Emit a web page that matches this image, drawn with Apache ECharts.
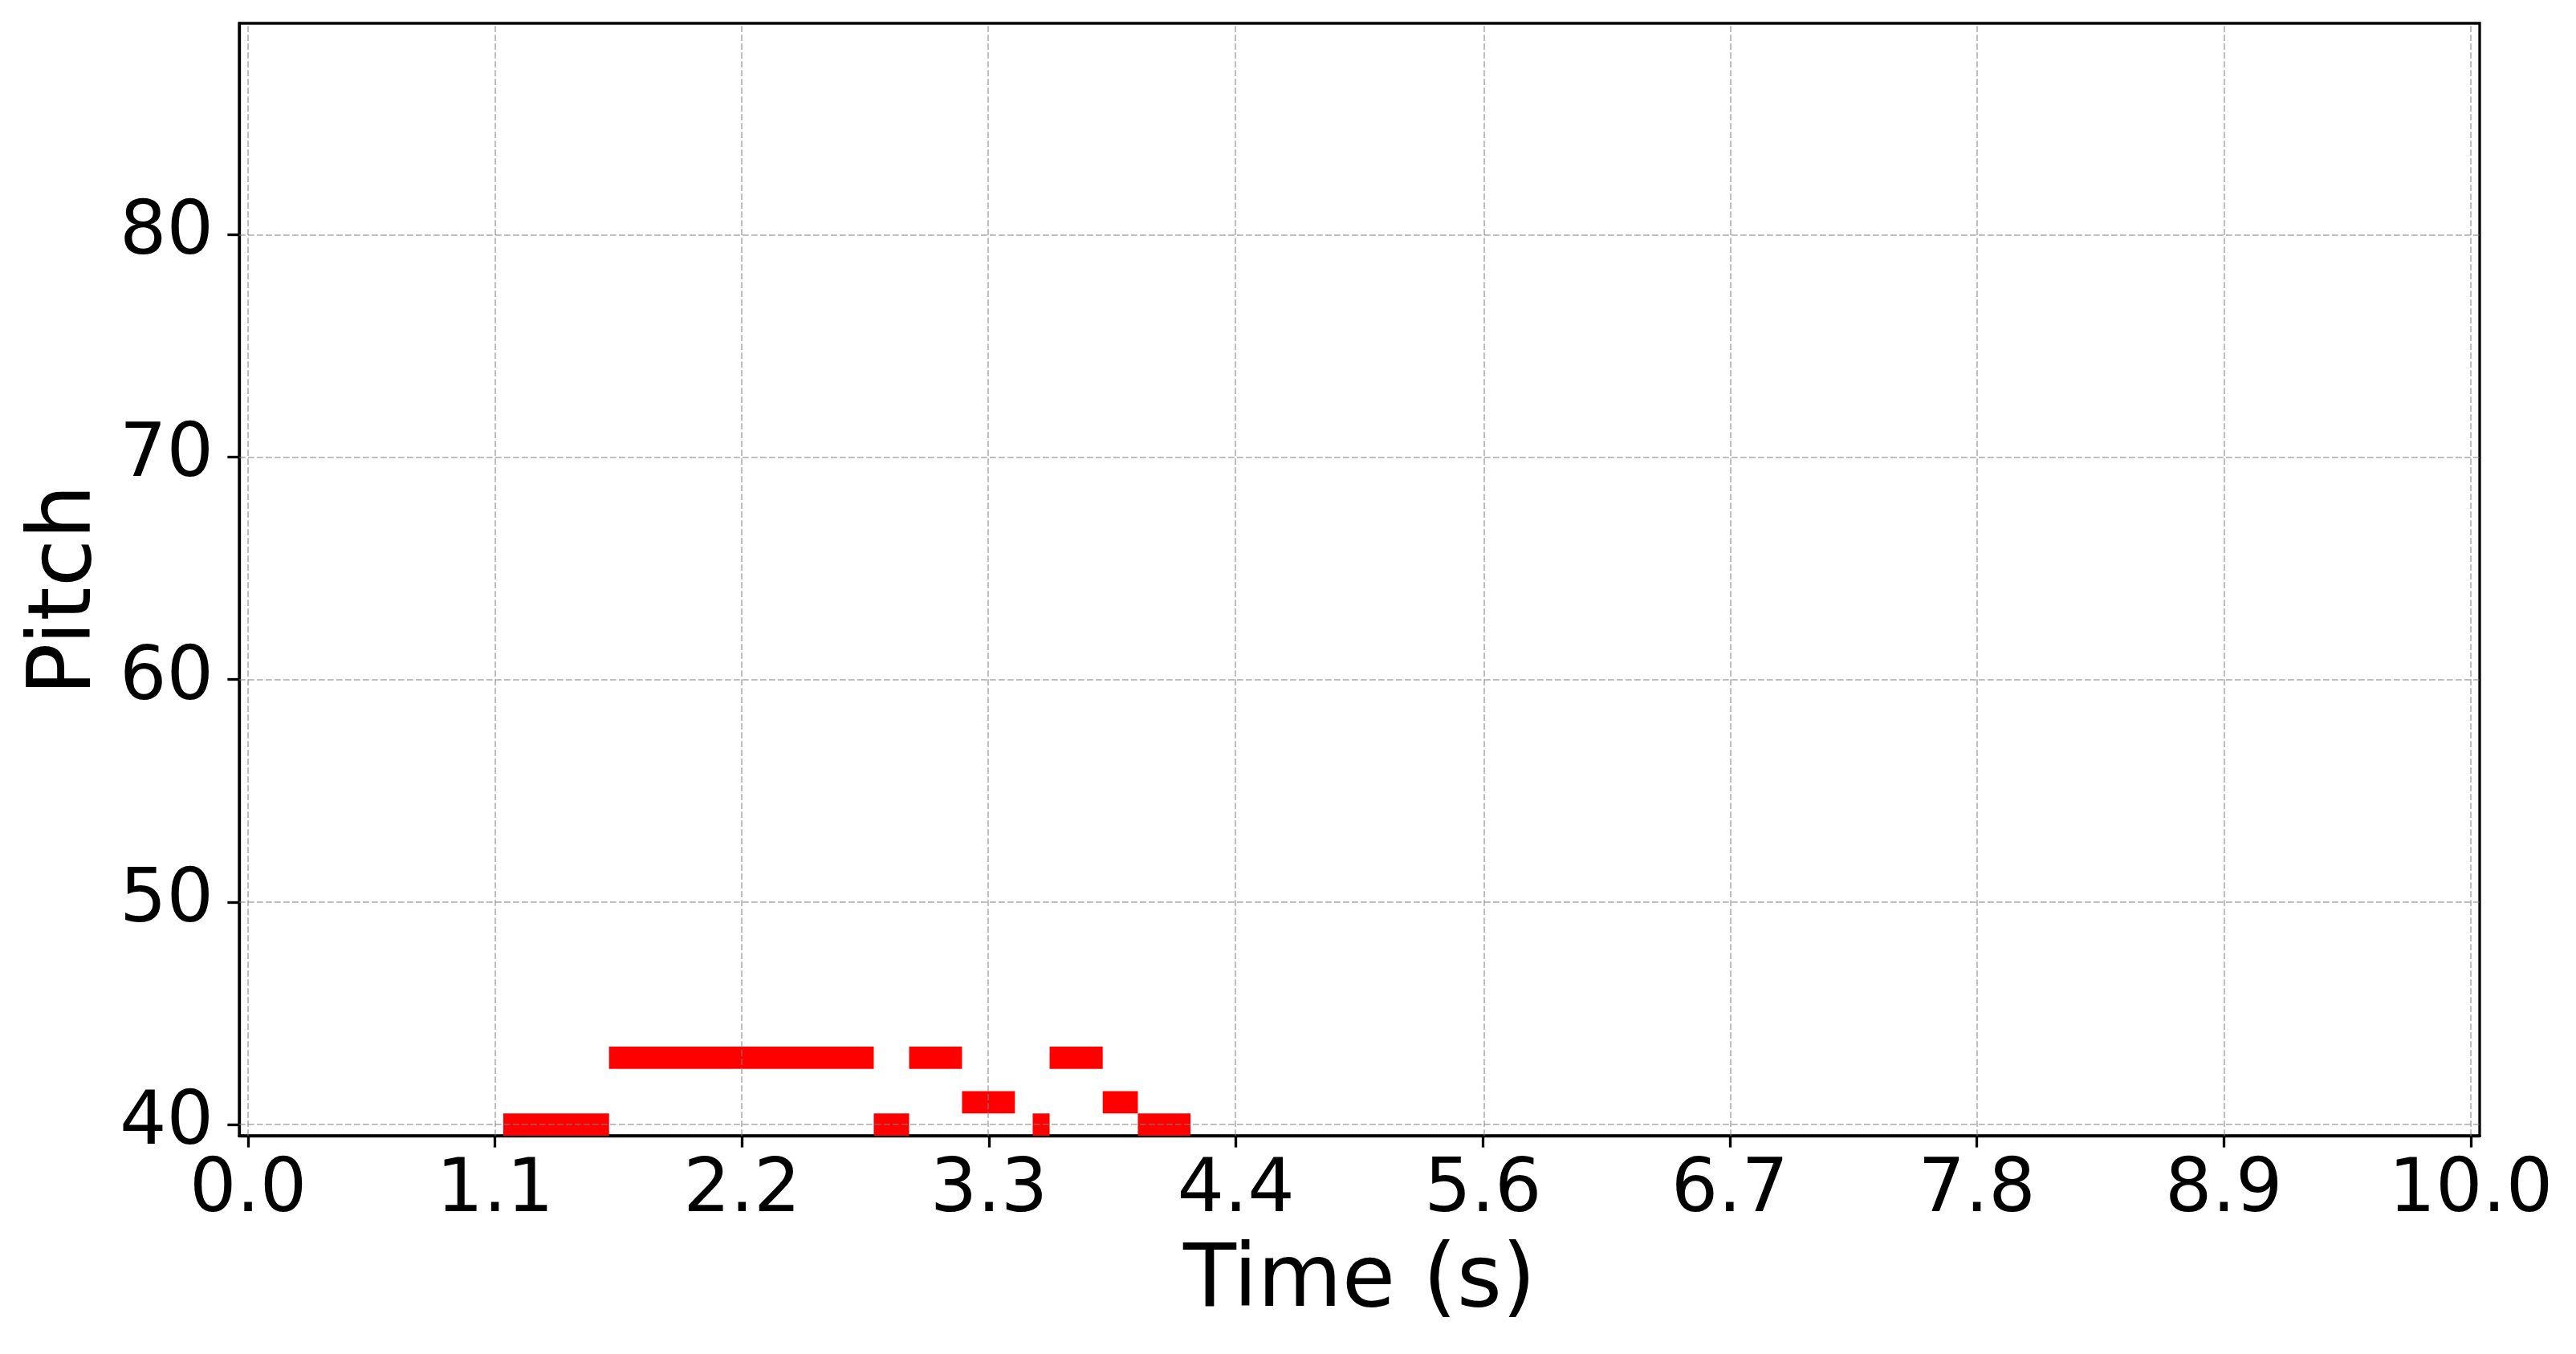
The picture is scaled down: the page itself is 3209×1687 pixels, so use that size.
<!DOCTYPE html>
<html>
<head>
<meta charset="utf-8">
<script src="https://cdn.jsdelivr.net/npm/echarts@6/dist/echarts.min.js"></script>
<style>
html,body{margin:0;padding:0;background:#fff;}
#chart{width:3209px;height:1687px;}
</style>
</head>
<body>
<div id="chart"></div>
<script>
// Note data: start time (s), end time (s), pitch
const noteStarts  = [1.148, 1.624, 2.815, 2.974, 3.212, 3.530, 3.606, 3.845, 4.003];
const noteEnds    = [1.624, 2.815, 2.974, 3.212, 3.450, 3.606, 3.845, 4.003, 4.240];
const notePitches = [40, 43, 40, 43, 41, 40, 43, 41, 40];

const xTickValues = [0, 1.1111, 2.2222, 3.3333, 4.4444, 5.5556, 6.6667, 7.7778, 8.8889, 10];
const xTickLabels = ['0.0', '1.1', '2.2', '3.3', '4.4', '5.6', '6.7', '7.8', '8.9', '10.0'];
const yTickValues = [40, 50, 60, 70, 80];
const yTickLabels = ['40', '50', '60', '70', '80'];

const FONT = 'DejaVu Sans';
const notes = noteStarts.map((s, i) => [s, noteEnds[i], notePitches[i]]);

const gridLines = xTickValues.map(v => ({ xAxis: v })).concat(yTickValues.map(v => ({ yAxis: v })));

const chart = echarts.init(document.getElementById('chart'), null, { renderer: 'canvas' });
chart.setOption({
  animation: false,
  backgroundColor: '#ffffff',
  grid: {
    left: 298, top: 29, right: 120, bottom: 272,
    show: true, borderColor: '#000', borderWidth: 3.3, backgroundColor: 'transparent'
  },
  xAxis: {
    type: 'value', min: -0.04, max: 10.04,
    name: 'Time (s)', nameLocation: 'middle', nameGap: 130,
    nameTextStyle: { fontFamily: FONT, fontSize: 108, color: '#000' },
    axisLine: { show: true, onZero: false, lineStyle: { color: '#000', width: 3.3 } },
    axisTick: { show: true, length: 14.6, lineStyle: { color: '#000', width: 3.3 }, customValues: xTickValues },
    axisLabel: {
      show: true, margin: 24, fontFamily: FONT, fontSize: 92, color: '#000',
      customValues: xTickValues,
      formatter: v => { const i = xTickValues.findIndex(t => Math.abs(t - v) < 1e-3); return i >= 0 ? xTickLabels[i] : ''; }
    },
    splitLine: { show: false }
  },
  yAxis: {
    type: 'value', min: 39.5, max: 89.5,
    name: 'Pitch', nameLocation: 'middle', nameRotate: 90, nameGap: 130,
    nameTextStyle: { fontFamily: FONT, fontSize: 108, color: '#000', padding: [0, 26, 0, 0] },
    axisLine: { show: true, onZero: false, lineStyle: { color: '#000', width: 3.3 } },
    axisTick: { show: true, length: 14.6, lineStyle: { color: '#000', width: 3.3 }, customValues: yTickValues },
    axisLabel: {
      show: true, margin: 32, fontFamily: FONT, fontSize: 92, color: '#000',
      customValues: yTickValues,
      formatter: v => { const i = yTickValues.indexOf(v); return i >= 0 ? yTickLabels[i] : ''; }
    },
    splitLine: { show: false }
  },
  series: [{
    type: 'custom',
    data: notes,
    encode: { x: [0, 1], y: 2 },
    renderItem: function (params, api) {
      const s = api.value(0), e = api.value(1), p = api.value(2);
      const a = api.coord([s, p + 0.5]);
      const b = api.coord([e, p - 0.5]);
      return {
        type: 'rect',
        shape: { x: a[0], y: a[1], width: b[0] - a[0], height: b[1] - a[1] },
        style: { fill: '#ff0000' }
      };
    },
    markLine: {
      silent: true, symbol: ['none', 'none'], animation: false,
      label: { show: false },
      lineStyle: { color: 'rgba(128,128,128,0.5)', width: 2.1, type: [7.7, 3.3] },
      emphasis: { disabled: true },
      data: gridLines
    }
  }]
});
</script>
</body>
</html>
